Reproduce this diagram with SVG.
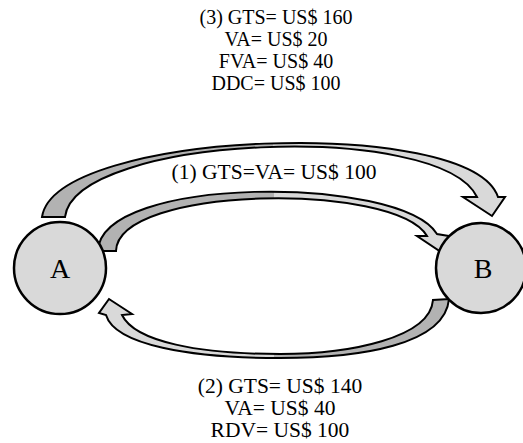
<svg xmlns="http://www.w3.org/2000/svg" width="523" height="443" viewBox="0 0 523 443">
<style>
.lbl{font-family:"Liberation Serif","Times New Roman",serif;font-size:20px;fill:#000;text-anchor:middle}
.big{font-size:21.5px}
.node{fill:#d9d9d9;stroke:#000;stroke-width:2.5}
.nlbl{font-family:"Liberation Serif","Times New Roman",serif;font-size:28px;fill:#000;text-anchor:middle}
.arr{stroke:#000;stroke-width:2;stroke-linejoin:miter}
</style>
<defs>
<linearGradient id="g3" gradientUnits="userSpaceOnUse" x1="42" y1="0" x2="505" y2="0">
<stop offset="0" stop-color="#b2b2b2"/><stop offset="0.5" stop-color="#b2b2b2"/><stop offset="0.5" stop-color="#d9d9d9"/><stop offset="1" stop-color="#d9d9d9"/>
</linearGradient>
<linearGradient id="g1" gradientUnits="userSpaceOnUse" x1="98" y1="0" x2="449" y2="0">
<stop offset="0" stop-color="#b2b2b2"/><stop offset="0.5" stop-color="#b2b2b2"/><stop offset="0.5" stop-color="#d9d9d9"/><stop offset="1" stop-color="#d9d9d9"/>
</linearGradient>
<linearGradient id="g2" gradientUnits="userSpaceOnUse" x1="449" y1="0" x2="99" y2="0">
<stop offset="0" stop-color="#b2b2b2"/><stop offset="0.5" stop-color="#b2b2b2"/><stop offset="0.5" stop-color="#d9d9d9"/><stop offset="1" stop-color="#d9d9d9"/>
</linearGradient>
</defs>
<g id="connectors">
<path id="arrow3" class="arr" fill="url(#g3)" d="M42,217 C55,130 470,115 498,197 L505,197 L492,216 L463,197 L477,197 C440,120 75,135 65,217 Z"/>
<path id="arrow1" class="arr" fill="url(#g1)" d="M98,251 C100,175 400,175 437,234 L449,236 L441,252 L417,236 L427,236 C395,182 118,185 116,251 Z"/>
<path id="arrow2" class="arr" fill="url(#g2)" d="M449,299 C445,345 360,358 280,358 C190,358 115,345 106,315 L99,313 L109,299 L132,314 L122,315 C135,342 200,354 280,354 C350,354 430,338 433,300 Z"/>
</g>
<g id="nodeA">
<circle class="node" cx="60" cy="268" r="46"/>
<text class="nlbl" x="60" y="278">A</text>
</g>
<g id="nodeB">
<circle class="node" cx="481" cy="268" r="45"/>
<text class="nlbl" x="483" y="278">B</text>
</g>
<g id="label3">
<text class="lbl" x="276" y="24">(3) GTS= US$ 160</text>
<text class="lbl" x="276" y="46">VA= US$ 20</text>
<text class="lbl" x="276" y="68">FVA= US$ 40</text>
<text class="lbl" x="276" y="90">DDC= US$ 100</text>
</g>
<g id="label1">
<text class="lbl big" x="274" y="179">(1) GTS=VA= US$ 100</text>
</g>
<g id="label2">
<text class="lbl big" x="280" y="393">(2) GTS= US$ 140</text>
<text class="lbl big" x="280" y="415">VA= US$ 40</text>
<text class="lbl big" x="280" y="437">RDV= US$ 100</text>
</g>
</svg>
